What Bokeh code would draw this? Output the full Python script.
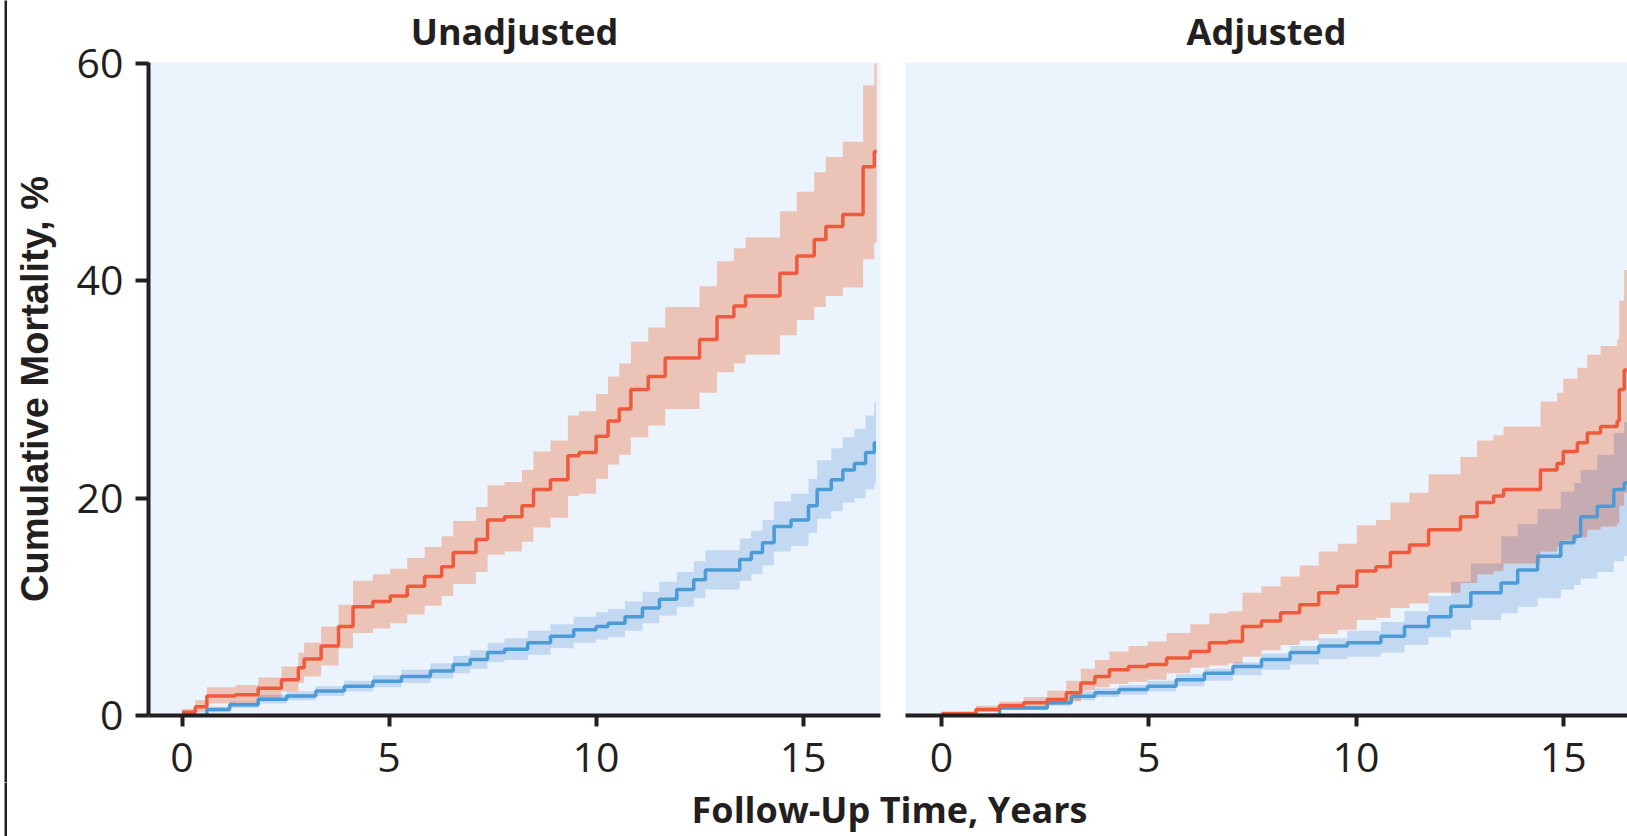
import numpy as np
from bokeh.plotting import figure
from bokeh.layouts import column, row
from bokeh.models import Range1d, FixedTicker
from bokeh.core.properties import value
from bokeh.embed import file_html
from bokeh.resources import INLINE

# ---------------- data ----------------
panel_titles = ["Unadjusted", "Adjusted"]
x_label = "Follow-Up Time, Years"
y_label = "Cumulative Mortality, %"
x_ticks = [0, 5, 10, 15]
y_ticks = [0, 20, 40, 60]

# Unadjusted, red group
unadj_red_t = [0, 0.32, 0.60, 1.29, 1.84, 2.40, 2.81, 2.95, 3.36, 3.78, 4.13, 4.61, 5.03, 5.44, 5.86,
               6.27, 6.55, 7.10, 7.38, 7.79, 8.21, 8.49, 8.90, 9.32, 9.59, 10.0, 10.29, 10.56, 10.84,
               11.26, 11.67, 12.5, 12.92, 13.33, 13.61, 14.44, 14.85, 15.27, 15.55, 15.96, 16.45, 16.72, 16.78]
unadj_red = [0.3, 0.8, 1.8, 1.9, 2.5, 3.3, 4.4, 5.2, 6.4, 8.2, 10.0, 10.5, 11.0, 11.9, 12.8,
             13.7, 15.0, 16.2, 18.0, 18.3, 19.3, 20.8, 21.7, 23.9, 24.2, 25.7, 27.1, 28.2, 30.0,
             31.2, 32.9, 34.6, 36.7, 37.7, 38.6, 40.7, 42.3, 43.8, 45.0, 46.1, 50.5, 51.9, 51.9]
unadj_red_lo = [0.0, 0.3, 1.1, 1.2, 1.6, 2.2, 3.0, 3.6, 4.6, 6.2, 7.6, 8.0, 8.5, 9.3, 10.1,
                11.0, 12.1, 13.2, 14.8, 15.1, 16.0, 17.3, 18.2, 20.2, 20.4, 21.8, 23.1, 24.0, 25.6,
                26.7, 28.2, 29.7, 31.6, 32.4, 33.2, 35.0, 36.4, 37.6, 38.6, 39.4, 42.0, 43.5, 43.5]
unadj_red_hi = [0.6, 1.4, 2.6, 2.8, 3.5, 4.5, 5.8, 6.7, 8.2, 10.2, 12.4, 13.0, 13.5, 14.5, 15.5,
                16.5, 17.9, 19.2, 21.2, 21.5, 22.6, 24.3, 25.3, 27.6, 28.0, 29.6, 31.2, 32.4, 34.4,
                35.7, 37.6, 39.5, 41.8, 43.0, 44.0, 46.4, 48.2, 50.0, 51.4, 52.8, 58.0, 60.0, 60.0]

# Unadjusted, blue group
unadj_blue_t = [0, 0.6, 1.15, 1.84, 2.53, 3.23, 3.92, 4.61, 5.30, 6.0, 6.55, 6.96, 7.38, 7.79, 8.35,
                8.9, 9.46, 10.0, 10.29, 10.7, 11.12, 11.53, 11.95, 12.36, 12.64, 13.47, 13.75, 14.02,
                14.3, 14.71, 15.13, 15.34, 15.68, 15.96, 16.24, 16.51, 16.72, 16.76]
unadj_blue = [0, 0.55, 1.0, 1.5, 1.8, 2.25, 2.7, 3.15, 3.6, 4.1, 4.7, 5.15, 5.8, 6.1, 6.7,
              7.3, 7.9, 8.2, 8.5, 9.1, 9.9, 10.7, 11.6, 12.5, 13.4, 14.35, 15.0, 15.9,
              17.4, 18.0, 19.3, 20.8, 21.7, 22.6, 23.2, 24.2, 25.1, 25.1]
unadj_blue_lo = [0, 0.3, 0.7, 1.1, 1.4, 1.8, 2.2, 2.6, 3.0, 3.4, 3.9, 4.3, 4.9, 5.1, 5.6,
                 6.2, 6.7, 7.0, 7.2, 7.8, 8.5, 9.2, 10.0, 10.8, 11.6, 12.4, 13.0, 13.8,
                 15.1, 15.6, 16.8, 18.1, 18.8, 19.6, 20.0, 20.8, 21.4, 21.4]
unadj_blue_hi = [0.1, 0.8, 1.3, 1.9, 2.2, 2.7, 3.2, 3.7, 4.2, 4.8, 5.5, 6.0, 6.7, 7.1, 7.8,
                 8.4, 9.1, 9.5, 9.8, 10.5, 11.4, 12.3, 13.2, 14.2, 15.2, 16.3, 17.0, 18.0,
                 19.7, 20.4, 21.8, 23.5, 24.6, 25.6, 26.4, 27.6, 28.8, 28.8]

# Adjusted, red group
adj_red_t = [0, 0.83, 1.4, 1.98, 2.55, 3.01, 3.36, 3.7, 4.05, 4.51, 4.97, 5.43, 6.0, 6.46, 6.92,
             7.26, 7.72, 8.18, 8.64, 9.1, 9.56, 10.02, 10.48, 10.83, 11.29, 11.75, 12.52, 12.92,
             13.32, 13.56, 14.45, 14.85, 15.0, 15.34, 15.58, 15.9, 16.3, 16.35, 16.47, 16.75]
adj_red = [0.15, 0.55, 0.92, 1.17, 1.47, 2.1, 3.0, 3.6, 4.2, 4.5, 4.7, 5.3, 5.9, 6.7, 6.8,
           8.2, 8.7, 9.45, 10.2, 11.3, 11.9, 13.3, 13.7, 15.0, 15.7, 17.1, 18.3, 19.6,
           20.2, 20.8, 22.6, 23.2, 24.3, 25.1, 26.0, 26.6, 27.1, 30.0, 31.8, 31.8]
adj_red_lo = [0, 0.3, 0.6, 0.8, 1.0, 1.3, 2.3, 2.6, 2.9, 3.1, 3.3, 3.9, 4.4, 4.6, 4.8,
              5.4, 6.0, 6.5, 6.9, 7.5, 7.9, 8.8, 9.0, 9.9, 10.3, 11.3, 12.2, 13.0,
              13.3, 14.0, 15.1, 15.5, 16.1, 16.4, 17.1, 17.4, 17.7, 19.3, 20.5, 20.5]
adj_red_hi = [0.4, 0.9, 1.3, 1.7, 2.3, 3.2, 4.3, 5.1, 5.9, 6.4, 6.8, 7.6, 8.4, 9.4, 9.6,
              11.3, 11.9, 12.8, 13.8, 15.1, 15.8, 17.5, 18.0, 19.6, 20.5, 22.2, 23.8, 25.3,
              25.8, 26.6, 28.9, 29.7, 31.0, 32.0, 33.2, 34.0, 34.6, 38.2, 41.0, 41.0]

# Adjusted, blue group
adj_blue_t = [0, 1.4, 2.55, 3.13, 3.7, 4.28, 4.97, 5.66, 6.34, 7.03, 7.72, 8.41, 9.1, 9.79, 10.6,
              11.17, 11.75, 12.29, 12.77, 13.5, 13.9, 14.38, 14.94, 15.26, 15.42, 15.82, 16.22, 16.47, 16.75]
adj_blue = [0, 0.7, 1.17, 1.78, 2.1, 2.4, 2.7, 3.3, 3.9, 4.5, 5.15, 5.8, 6.4, 6.7, 7.3,
            8.2, 9.1, 10.05, 11.3, 12.2, 13.4, 14.65, 15.9, 16.5, 18.3, 19.25, 20.8, 21.4, 21.4]
adj_blue_lo = [0, 0.5, 0.9, 1.4, 1.7, 1.9, 2.2, 2.7, 3.2, 3.7, 4.2, 4.7, 5.2, 5.4, 5.8,
               6.5, 7.2, 7.9, 8.8, 9.4, 10.0, 10.8, 11.6, 12.0, 12.6, 13.2, 14.2, 14.7, 14.7]
adj_blue_hi = [0.1, 0.9, 1.5, 2.2, 2.5, 2.8, 3.2, 3.8, 4.3, 4.9, 5.7, 6.4, 7.1, 7.8, 8.6,
               9.6, 11.0, 12.3, 14.0, 16.5, 17.6, 19.0, 20.6, 21.4, 22.6, 24.0, 26.0, 27.0, 27.0]

# ---------------- styling ----------------
TEXT = "#231F20"
BG = "#EBF3FC"
RED_LINE = "#EF5A3C"
RED_BAND = "#EBC4B7"
BLUE_LINE = "#4B9BD7"
BLUE_BAND = "#C3D9F1"
OVERLAP = "#C6ACB2"

FIG_H = 782
LABEL_H = 54
EDGE_W = 7


def step_eval(t, v, tq):
    t = np.asarray(t, dtype=float)
    v = np.asarray(v, dtype=float)
    idx = np.clip(np.searchsorted(t, tq, side="right") - 1, 0, len(t) - 1)
    return v[idx]


def band_overlap(ta, loa, hia, tb, lob, hib):
    tmax = min(ta[-1], tb[-1])
    grid = np.unique(np.concatenate([np.asarray(ta, float), np.asarray(tb, float)]))
    grid = grid[grid <= tmax]
    lo = np.maximum(step_eval(ta, loa, grid), step_eval(tb, lob, grid))
    hi = np.minimum(step_eval(ta, hia, grid), step_eval(tb, hib, grid))
    hi = np.where(hi > lo, hi, lo)
    return grid, lo, hi


def edge_strip(height):
    # thin dark frame line on the left edge of the graphic
    e = figure(width=EDGE_W, height=height, output_backend="svg", toolbar_location=None,
               x_axis_type=None, y_axis_type=None, title=None, frame_align=False,
               min_border_left=4, min_border_right=0, min_border_top=0, min_border_bottom=0)
    e.background_fill_color = TEXT
    e.border_fill_color = "white"
    e.outline_line_color = None
    e.grid.visible = False
    return e


def make_panel(title, x_range, width, mb_left, mb_right, show_y,
               rt, rv, rlo, rhi, bt, bv, blo, bhi):
    p = figure(width=width, height=FIG_H, x_range=x_range, y_range=Range1d(0, 60.1),
               output_backend="svg", toolbar_location=None, frame_align=False,
               min_border_left=mb_left, min_border_right=mb_right,
               min_border_top=62, min_border_bottom=FIG_H - 715)
    p.background_fill_color = BG
    p.border_fill_color = "white"
    p.outline_line_color = None
    p.grid.visible = False

    p.varea_step(x=bt, y1=blo, y2=bhi, step_mode="after", fill_color=BLUE_BAND)
    p.varea_step(x=rt, y1=rlo, y2=rhi, step_mode="after", fill_color=RED_BAND)
    g, lo, hi = band_overlap(rt, rlo, rhi, bt, blo, bhi)
    p.varea_step(x=g, y1=lo, y2=hi, step_mode="after", fill_color=OVERLAP)
    p.step(x=bt, y=bv, mode="after", line_color=BLUE_LINE, line_width=3.5)
    p.step(x=rt, y=rv, mode="after", line_color=RED_LINE, line_width=3.5)

    p.title.text = title
    p.title.align = "center"
    p.title.vertical_align = "top"
    p.title.text_baseline = "top"
    p.title.text_font = "Open Sans"
    p.title.text_font_style = "bold"
    p.title.text_font_size = "36px"
    p.title.text_color = TEXT
    p.title.standoff = 10

    xa = p.xaxis[0]
    xa.ticker = FixedTicker(ticks=x_ticks)
    xa.axis_line_color = TEXT
    xa.axis_line_width = 4
    xa.major_tick_line_color = TEXT
    xa.major_tick_line_width = 4
    xa.major_tick_in = 0
    xa.major_tick_out = 11
    xa.minor_tick_line_color = None
    xa.major_label_text_font = "Open Sans"
    xa.major_label_text_font_size = "41px"
    xa.major_label_text_color = TEXT
    xa.major_label_standoff = 16

    ya = p.yaxis[0]
    if show_y:
        ya.ticker = FixedTicker(ticks=y_ticks)
        ya.axis_line_color = TEXT
        ya.axis_line_width = 4
        ya.major_tick_line_color = TEXT
        ya.major_tick_line_width = 4
        ya.major_tick_in = 0
        ya.major_tick_out = 13
        ya.minor_tick_line_color = None
        ya.major_label_text_font = "Open Sans"
        ya.major_label_text_font_size = "41px"
        ya.major_label_text_color = TEXT
        ya.major_label_standoff = 12
        ya.axis_label = y_label
        ya.axis_label_text_font = "Liberation Sans"
        ya.axis_label_text_font_style = "bold"
        ya.axis_label_text_font_size = "38px"
        ya.axis_label_text_color = TEXT
        ya.axis_label_standoff = 18
    else:
        ya.visible = False
    return p


p1 = make_panel(panel_titles[0], Range1d(-0.81, 16.87), 893 - EDGE_W, 148 - EDGE_W, 13, True,
                unadj_red_t, unadj_red, unadj_red_lo, unadj_red_hi,
                unadj_blue_t, unadj_blue, unadj_blue_lo, unadj_blue_hi)
p2 = make_panel(panel_titles[1], Range1d(-0.87, 16.55), 734, 12, 0, False,
                adj_red_t, adj_red, adj_red_lo, adj_red_hi,
                adj_blue_t, adj_blue, adj_blue_lo, adj_blue_hi)

# shared x-axis title, centred under both panels
LW = 1627 - EDGE_W
p3 = figure(width=LW, height=LABEL_H, x_range=Range1d(0, LW), y_range=Range1d(0, LABEL_H),
            output_backend="svg", toolbar_location=None, min_border=0, frame_align=False,
            x_axis_type=None, y_axis_type=None, title=None)
p3.grid.visible = False
p3.outline_line_color = None
p3.background_fill_color = "white"
p3.border_fill_color = "white"
p3.text(x=[889 - EDGE_W], y=[27], text=[x_label], text_font=value("Open Sans"),
        text_font_style="bold", text_font_size="36px", text_color=TEXT,
        text_align="center", text_baseline="middle")

layout = column(row(edge_strip(FIG_H), p1, p2, spacing=0),
                row(edge_strip(LABEL_H), p3, spacing=0), spacing=0)
open("out.html", "w").write(file_html(layout, INLINE))
